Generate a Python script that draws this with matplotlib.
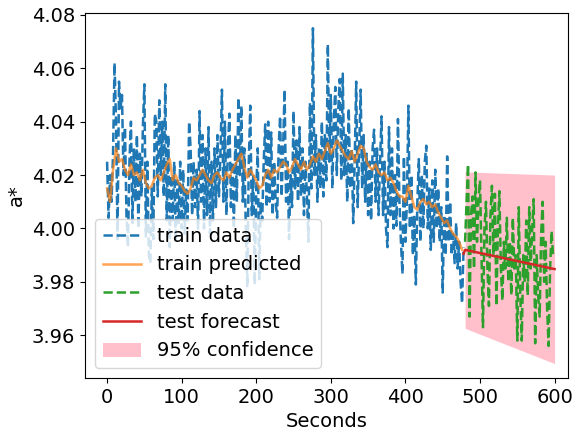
import matplotlib
matplotlib.use("Agg")
import matplotlib.pyplot as plt
import numpy as np

# ---- data ----
train_t = list(range(0, 480, 2))
train_data = [
    4.025, 4.004, 4.020, 4.010, 4.028, 4.062, 4.040, 3.996, 4.055, 4.045,
    4.050, 4.020, 4.038, 4.005, 3.993, 4.025, 4.040, 4.002, 4.030, 4.010,
    4.035, 4.000, 4.028, 4.012, 4.038, 4.054, 3.997, 4.025, 3.990, 3.987,
    4.015, 3.996, 4.043, 4.040, 4.012, 4.048, 4.020, 4.040, 4.012, 4.054,
    4.003, 4.035, 3.993, 4.020, 4.003, 4.025, 3.995, 4.018, 4.002, 4.025,
    4.000, 4.022, 3.998, 4.015, 4.003, 4.040, 4.030, 4.005, 4.025, 4.008,
    4.022, 4.000, 4.044, 4.010, 4.035, 4.000, 4.030, 4.005, 4.038, 3.998,
    4.025, 4.003, 4.030, 4.008, 4.035, 4.012, 4.028, 4.052, 4.010, 4.040,
    4.005, 4.030, 4.043, 4.008, 4.025, 4.000, 4.035, 4.010, 4.049, 4.020,
    4.046, 4.010, 4.030, 4.000, 3.978, 4.025, 4.046, 4.005, 4.020, 3.979,
    4.015, 4.030, 3.981, 4.010, 4.003, 4.025, 4.039, 4.008, 4.040, 4.010,
    4.036, 4.005, 4.025, 4.010, 4.004, 4.030, 4.042, 4.012, 4.030, 4.052,
    4.010, 4.025, 3.996, 4.020, 4.008, 4.044, 4.015, 4.033, 4.010, 4.038,
    4.012, 4.030, 4.005, 4.025, 4.012, 3.995, 4.047, 4.015, 4.075, 4.020,
    4.035, 4.010, 4.030, 4.015, 4.040, 4.012, 4.035, 4.018, 4.069, 4.025,
    4.050, 4.015, 4.040, 4.053, 4.020, 4.045, 4.056, 4.018, 4.058, 4.020,
    4.035, 4.010, 4.045, 4.015, 4.030, 4.002, 4.025, 4.055, 4.008, 4.030,
    4.052, 4.015, 4.035, 4.010, 4.028, 4.005, 4.025, 4.003, 4.030, 4.037,
    4.010, 4.030, 4.005, 4.025, 4.042, 4.005, 4.025, 4.000, 3.993, 4.038,
    4.005, 4.030, 4.000, 4.020, 4.001, 4.041, 4.010, 3.995, 3.983, 4.027,
    3.995, 4.010, 4.046, 4.000, 4.020, 3.990, 4.005, 3.979, 4.010, 4.026,
    3.995, 4.020, 4.000, 4.025, 4.031, 4.000, 4.015, 3.992, 4.018, 3.995,
    4.022, 4.000, 4.015, 3.995, 4.008, 3.976, 4.005, 3.990, 4.027, 3.995,
    4.010, 3.990, 3.998, 3.987, 4.002, 3.985, 3.995, 3.980, 3.972, 3.993,
]

pred_t = list(range(0, 480, 4))
train_pred = [
    4.015, 4.010, 4.022, 4.030, 4.025, 4.026, 4.022, 4.020, 4.024, 4.020,
    4.021, 4.018, 4.022, 4.017, 4.015, 4.016, 4.019, 4.020, 4.018, 4.021,
    4.024, 4.026, 4.018, 4.020, 4.017, 4.016, 4.014, 4.013, 4.015, 4.019,
    4.018, 4.020, 4.022, 4.020, 4.018, 4.017, 4.020, 4.021, 4.019, 4.018,
    4.021, 4.019, 4.022, 4.024, 4.026, 4.028, 4.023, 4.019, 4.022, 4.020,
    4.018, 4.015, 4.016, 4.020, 4.022, 4.019, 4.022, 4.021, 4.023, 4.025,
    4.024, 4.021, 4.023, 4.026, 4.024, 4.022, 4.025, 4.022, 4.024, 4.027,
    4.025, 4.028, 4.026, 4.029, 4.032, 4.028, 4.030, 4.033, 4.031, 4.029,
    4.027, 4.026, 4.029, 4.025, 4.028, 4.031, 4.030, 4.025, 4.023, 4.022,
    4.024, 4.021, 4.020, 4.021, 4.018, 4.019, 4.017, 4.014, 4.012, 4.012,
    4.010, 4.016, 4.012, 4.008, 4.007, 4.010, 4.011, 4.009, 4.010, 4.008,
    4.009, 4.006, 4.004, 4.002, 4.003, 4.000, 3.998, 3.997, 3.995, 3.992,
]

test_t = list(range(480, 600, 2))
test_data = [
    3.995, 4.010, 4.024, 3.967, 4.005, 4.012, 3.985, 4.021, 3.995, 4.010,
    4.018, 3.990, 3.963, 4.000, 4.010, 3.985, 3.971, 4.005, 4.016, 3.990,
    4.013, 3.971, 4.000, 4.014, 3.985, 3.973, 3.995, 3.985, 4.004, 3.980,
    3.995, 3.975, 4.004, 3.985, 3.990, 3.958, 4.008, 3.975, 3.958, 3.990,
    3.980, 4.003, 3.975, 4.008, 3.985, 4.000, 4.011, 3.957, 3.990, 3.975,
    3.967, 3.998, 4.010, 3.980, 3.995, 3.970, 3.956, 3.985, 3.999, 3.990,
]

fc_t = [478, 480, 500, 520, 540, 560, 580, 600]
forecast = [3.9905, 3.9920, 3.9908, 3.9896, 3.9884, 3.9872, 3.9860, 3.9848]

ci_t = [480, 500, 520, 540, 560, 580, 600]
ci_lower = [3.9626, 3.9604, 3.9582, 3.9560, 3.9538, 3.9516, 3.9494]
ci_upper = [4.0212, 4.0210, 4.0208, 4.0206, 4.0204, 4.0202, 4.0200]

# ---- plot ----
plt.rcParams['font.family'] = ['DejaVu Sans']
fig = plt.figure(figsize=(5.75, 4.33), dpi=100)
ax = fig.add_axes([85/575, 1-378/433, (568-85)/575, (378-13)/433])

ax.plot(train_t, train_data, '--', color='tab:blue', lw=1.8, label='train data')
ax.plot(pred_t, train_pred, '-', color='tab:orange', lw=1.8, alpha=0.7, label='train predicted')
ax.plot(test_t, test_data, '--', color='tab:green', lw=1.8, label='test data')
ax.plot(fc_t, forecast, '-', color='tab:red', lw=1.8, label='test forecast')
ax.fill_between(ci_t, ci_lower, ci_upper, color='pink', lw=0, label='95% confidence')

ax.set_xlim(-29.6, 618)
ax.set_ylim(3.944, 4.0807)
ax.set_yticks([3.96, 3.98, 4.00, 4.02, 4.04, 4.06, 4.08])
ax.set_xticks([0, 100, 200, 300, 400, 500, 600])
ax.tick_params(labelsize=14)
ax.set_xlabel('Seconds', fontsize=14)
ax.set_ylabel('a*', fontsize=14)
ax.legend(loc='lower left', fontsize=14)

fig.savefig('out.png', dpi=100)
